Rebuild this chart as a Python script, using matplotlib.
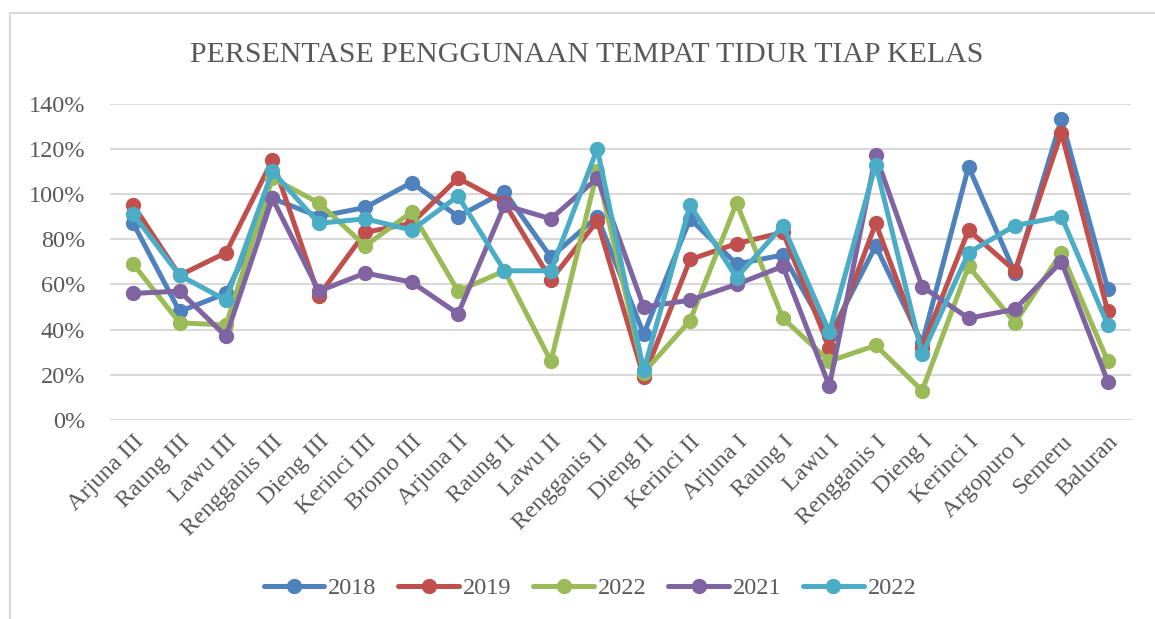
import numpy as np
import matplotlib
matplotlib.use('Agg')
import matplotlib.pyplot as plt
from matplotlib.patches import Rectangle
from matplotlib.ticker import PercentFormatter

plt.rcParams['font.family'] = ['Liberation Serif', 'DejaVu Serif']

kelas = ['Arjuna III', 'Raung III', 'Lawu III', 'Rengganis III', 'Dieng III', 'Kerinci III',
         'Bromo III', 'Arjuna II', 'Raung II', 'Lawu II', 'Rengganis II', 'Dieng II',
         'Kerinci II', 'Arjuna I', 'Raung I', 'Lawu I', 'Rengganis I', 'Dieng I',
         'Kerinci I', 'Argopuro I', 'Semeru', 'Baluran']

# values in percent
v2018 = [87, 48, 56, 98, 90, 94, 105, 90, 101, 72, 90, 38, 89, 69, 73, 37, 77, 34, 112, 65, 133, 58]
v2019 = [95, 64, 74, 115, 55, 83, 87, 107, 96, 62, 88, 19, 71, 78, 83, 32, 87, 32, 84, 66, 127, 48]
v2022a = [69, 43, 42, 107, 96, 77, 92, 57, 66, 26, 110, 21, 44, 96, 45, 26, 33, 13, 68, 43, 74, 26]
v2021 = [56, 57, 37, 98, 57, 65, 61, 47, 95, 89, 107, 50, 53, 60, 68, 15, 117, 59, 45, 49, 70, 17]
v2022b = [91, 64, 53, 110, 87, 89, 84, 99, 66, 66, 120, 22, 95, 63, 86, 39, 113, 29, 74, 86, 90, 42]

series = [('2018', v2018, '#4F81BD'), ('2019', v2019, '#C0504D'), ('2022', v2022a, '#9BBB59'),
          ('2021', v2021, '#8064A2'), ('2022', v2022b, '#4BACC6')]

fig = plt.figure(figsize=(11.55, 6.19), dpi=100)
ax = fig.add_axes([110 / 1155, 1 - 420 / 619, (1131 - 110) / 1155, (420 - 103.5) / 619])

x = np.arange(len(kelas))
for name, vals, col in series:
    ax.plot(x, vals, color=col, lw=3.6, marker='o', ms=10, label=name, solid_capstyle='round')

ax.set_xlim(-0.5, len(kelas) - 0.5)
ax.set_ylim(0, 140)
ax.set_yticks(range(0, 141, 20))
ax.yaxis.set_major_formatter(PercentFormatter(decimals=0))
ax.set_xticks(x)
ax.set_xticklabels(kelas, rotation=45, ha='right', rotation_mode='anchor')
ax.tick_params(length=0, labelsize=17.5, colors='#595959', pad=8)
ax.tick_params(axis='y', pad=18)
ax.grid(axis='y', color='#D9D9D9', lw=1.5)
ax.set_axisbelow(True)
for s in ax.spines.values():
    s.set_visible(False)

fig.text(0.508, 1 - 55 / 619, 'PERSENTASE PENGGUNAAN TEMPAT TIDUR TIAP KELAS',
         ha='center', va='center', fontsize=21.5, color='#595959')

fig.legend(loc='center', bbox_to_anchor=(590 / 1155, 1 - 588 / 619), ncol=5, frameon=False,
           fontsize=17.5, handlelength=2.5, columnspacing=0.9, handletextpad=0.15,
           labelcolor='#595959')

fig.patches.append(Rectangle((10 / 1155, -0.1), 1.2, 1 - 13 / 619 + 0.1, transform=fig.transFigure,
                             fill=False, edgecolor='#D9D9D9', lw=1.5))

fig.savefig('out.png', dpi=100)
